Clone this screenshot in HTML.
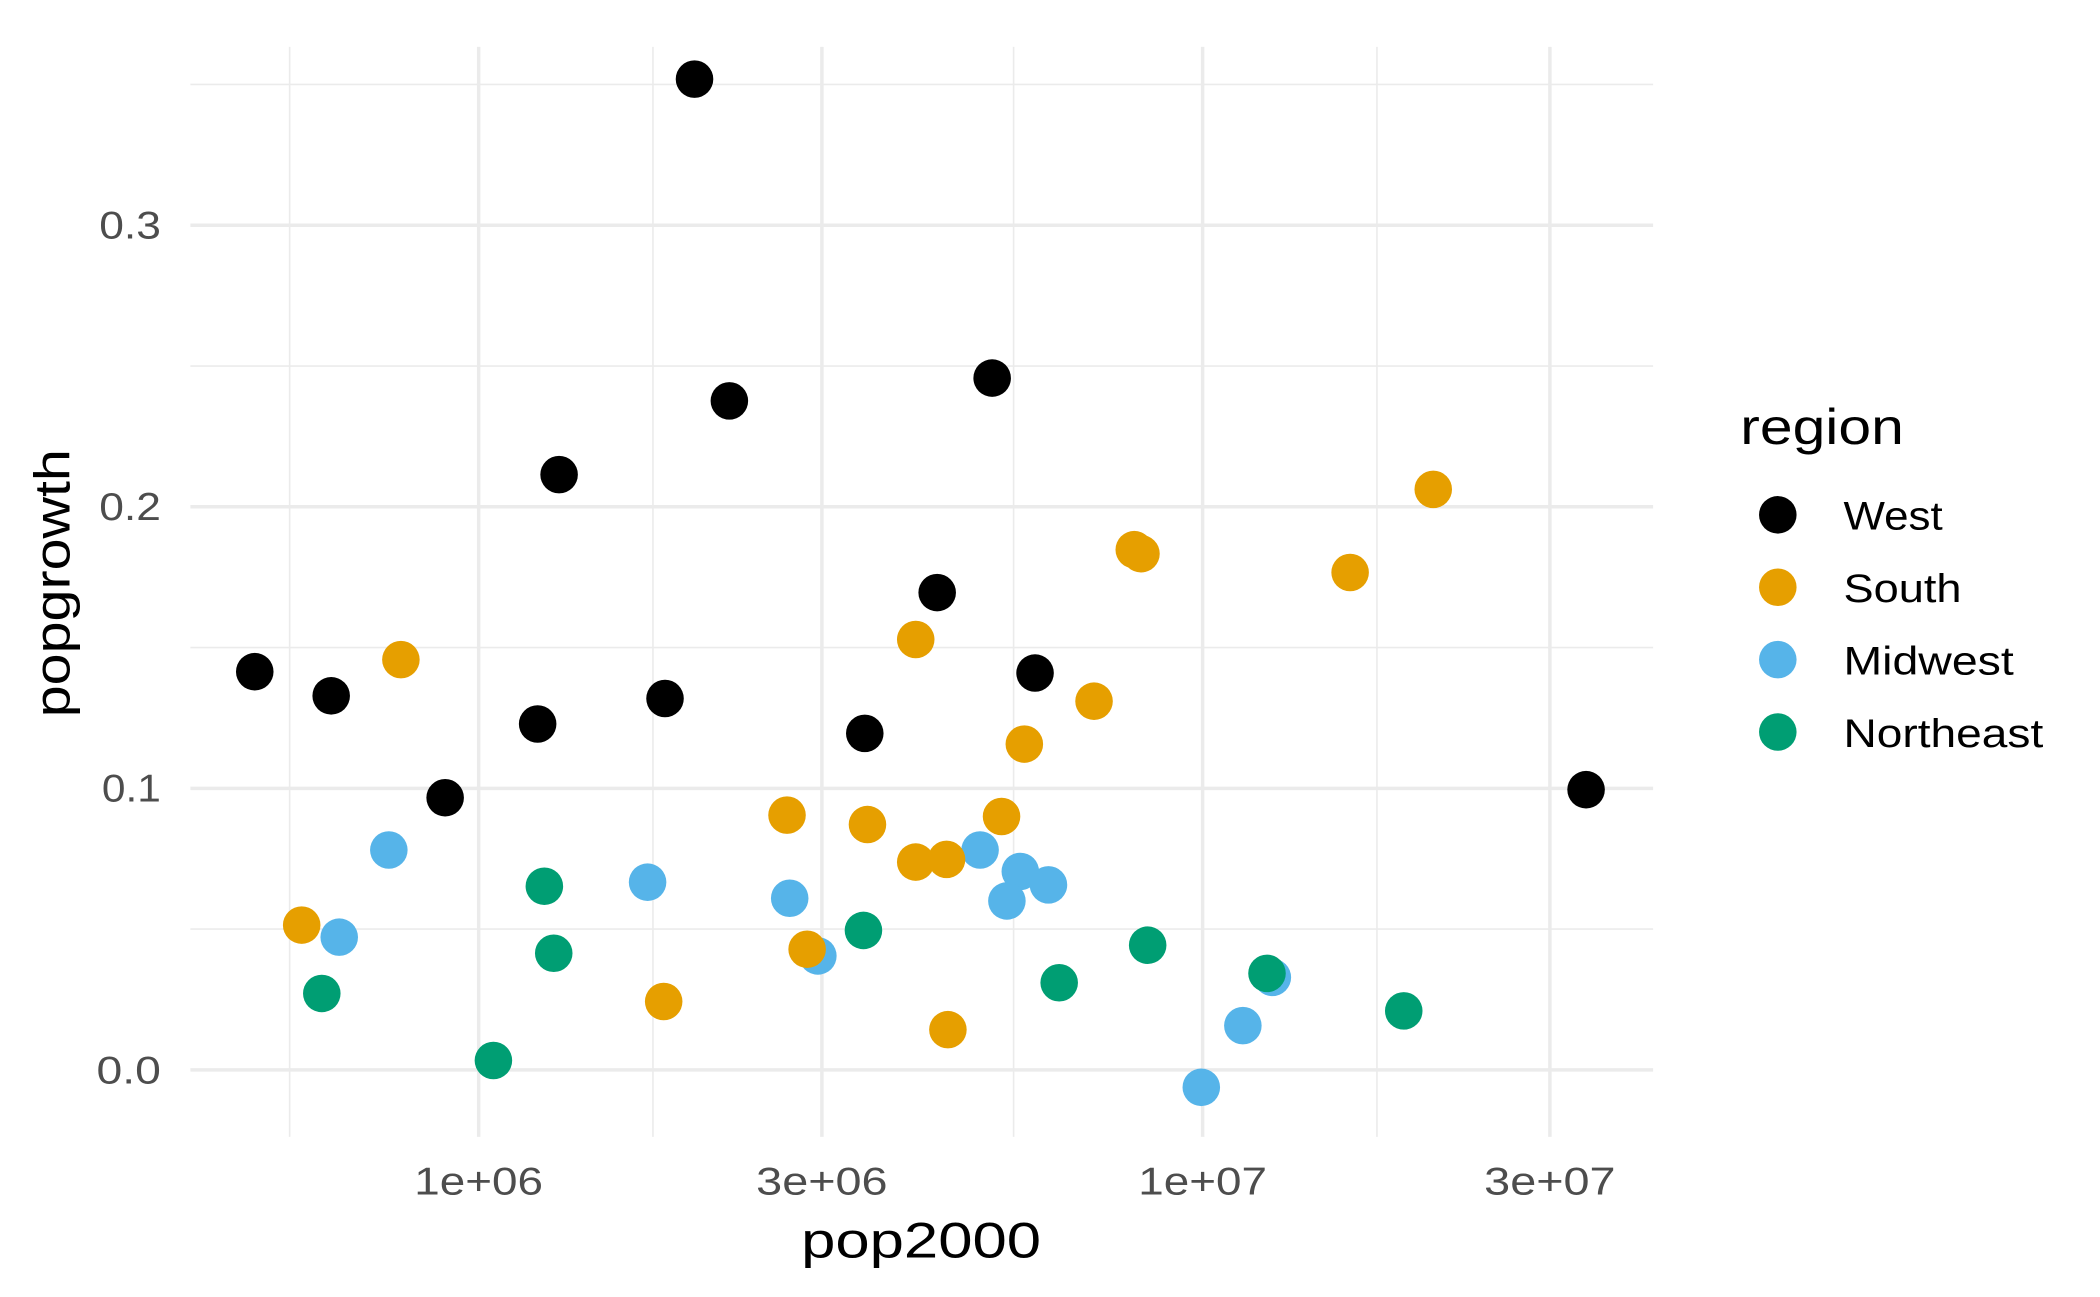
<!DOCTYPE html>
<html><head><meta charset="utf-8"><style>html,body{margin:0;padding:0;background:#fff}svg{display:block}</style></head>
<body>
<svg width="2100" height="1297" viewBox="0 0 1566.3 967.4" xmlns="http://www.w3.org/2000/svg" font-family="Liberation Sans, sans-serif">
<rect width="1566.3" height="967.4" fill="#fff"/>
<g stroke="#ebebeb" stroke-width="1.2">
<line x1="142" x2="1233" y1="693" y2="693"/><line x1="142" x2="1233" y1="483" y2="483"/><line x1="142" x2="1233" y1="273" y2="273"/><line x1="142" x2="1233" y1="63" y2="63"/>
<line x1="216" x2="216" y1="35" y2="848"/><line x1="487" x2="487" y1="35" y2="848"/><line x1="756" x2="756" y1="35" y2="848"/><line x1="1027" x2="1027" y1="35" y2="848"/>
</g>
<g stroke="#ebebeb" stroke-width="2.6">
<line x1="142" x2="1233" y1="798" y2="798"/><line x1="142" x2="1233" y1="588" y2="588"/><line x1="142" x2="1233" y1="378" y2="378"/><line x1="142" x2="1233" y1="168" y2="168"/>
<line x1="357" x2="357" y1="35" y2="848"/><line x1="613" x2="613" y1="35" y2="848"/><line x1="897" x2="897" y1="35" y2="848"/><line x1="1156" x2="1156" y1="35" y2="848"/>
</g>
<g font-size="29" fill="#4d4d4d" text-anchor="end">
<text x="120" y="808" textLength="48" lengthAdjust="spacingAndGlyphs">0.0</text><text x="120" y="598" textLength="44" lengthAdjust="spacingAndGlyphs">0.1</text><text x="120" y="388" textLength="46" lengthAdjust="spacingAndGlyphs">0.2</text><text x="120" y="178" textLength="46" lengthAdjust="spacingAndGlyphs">0.3</text>
</g>
<g font-size="29" fill="#4d4d4d" text-anchor="middle">
<text x="357" y="891" textLength="96" lengthAdjust="spacingAndGlyphs">1e+06</text><text x="613" y="891" textLength="98" lengthAdjust="spacingAndGlyphs">3e+06</text><text x="897" y="891" textLength="96" lengthAdjust="spacingAndGlyphs">1e+07</text><text x="1156" y="891" textLength="98" lengthAdjust="spacingAndGlyphs">3e+07</text>
</g>
<text x="687" y="938" font-size="37" text-anchor="middle" textLength="179" lengthAdjust="spacingAndGlyphs">pop2000</text>
<text transform="translate(52,435) rotate(-90)" font-size="37" text-anchor="middle" textLength="200" lengthAdjust="spacingAndGlyphs">popgrowth</text>
<g fill="#56B4E9">
<circle cx="290" cy="634" r="14"/><circle cx="253" cy="699" r="14"/><circle cx="483" cy="658" r="14"/><circle cx="589" cy="670" r="14"/><circle cx="610" cy="713" r="14"/><circle cx="731" cy="634" r="14"/><circle cx="761" cy="650" r="14"/><circle cx="751" cy="672" r="14"/><circle cx="782" cy="660" r="14"/><circle cx="896" cy="811" r="14"/><circle cx="927" cy="765" r="14"/><circle cx="949" cy="729" r="14"/>
</g>
<g fill="#E69F00">
<circle cx="299" cy="492" r="14"/><circle cx="225" cy="690" r="14"/><circle cx="587" cy="608" r="14"/><circle cx="647" cy="615" r="14"/><circle cx="683" cy="643" r="14"/><circle cx="706" cy="641" r="14"/><circle cx="747" cy="609" r="14"/><circle cx="602" cy="708" r="14"/><circle cx="495" cy="747" r="14"/><circle cx="707" cy="768" r="14"/><circle cx="683" cy="477" r="14"/><circle cx="764" cy="555" r="14"/><circle cx="816" cy="523" r="14"/><circle cx="846" cy="410" r="14"/><circle cx="851" cy="413" r="14"/><circle cx="1007" cy="427" r="14"/><circle cx="1069" cy="365" r="14"/>
</g>
<g fill="#009E73">
<circle cx="406" cy="661" r="14"/><circle cx="413" cy="711" r="14"/><circle cx="240" cy="741" r="14"/><circle cx="368" cy="791" r="14"/><circle cx="644" cy="694" r="14"/><circle cx="790" cy="733" r="14"/><circle cx="856" cy="705" r="14"/><circle cx="945" cy="726" r="14"/><circle cx="1047" cy="754" r="14"/>
</g>
<g fill="#000">
<circle cx="518" cy="59" r="14"/><circle cx="544" cy="299" r="14"/><circle cx="417" cy="354" r="14"/><circle cx="740" cy="282" r="14"/><circle cx="699" cy="442" r="14"/><circle cx="190" cy="501" r="14"/><circle cx="247" cy="519" r="14"/><circle cx="401" cy="540" r="14"/><circle cx="496" cy="521" r="14"/><circle cx="645" cy="547" r="14"/><circle cx="772" cy="502" r="14"/><circle cx="332" cy="595" r="14"/><circle cx="1183" cy="589" r="14"/>
</g>
<text x="1298" y="331" font-size="37" textLength="122" lengthAdjust="spacingAndGlyphs">region</text>
<circle cx="1326" cy="384" r="14" fill="#000"/><circle cx="1326" cy="438" r="14" fill="#E69F00"/><circle cx="1326" cy="492" r="14" fill="#56B4E9"/><circle cx="1326" cy="546" r="14" fill="#009E73"/>
<g font-size="30">
<text x="1375" y="395" textLength="74" lengthAdjust="spacingAndGlyphs">West</text><text x="1375" y="449" textLength="88" lengthAdjust="spacingAndGlyphs">South</text><text x="1375" y="503" textLength="127" lengthAdjust="spacingAndGlyphs">Midwest</text><text x="1375" y="557" textLength="149" lengthAdjust="spacingAndGlyphs">Northeast</text>
</g>
</svg>
</body></html>
